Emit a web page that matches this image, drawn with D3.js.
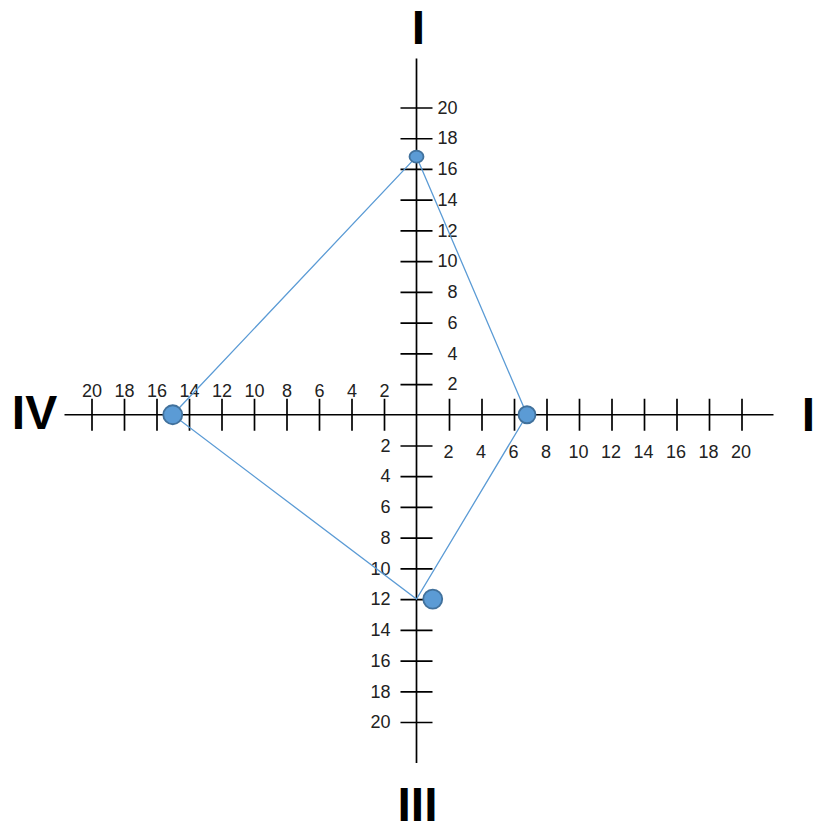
<!DOCTYPE html>
<meta charset="utf-8">
<script src="https://d3js.org/d3.v7.min.js"></script>
<style>
body { margin: 0; background: #fff; }
text { font-family: "Liberation Sans", Arial, sans-serif; }
.tick line, .axis-line { stroke: #000; stroke-width: 1.7; }
.tick text { font-size: 18px; fill: #222; }
.quad { font-size: 48px; font-weight: bold; fill: #000; }
</style>
<body>
<script>
// chart data
var posTicks = [2, 4, 6, 8, 10, 12, 14, 16, 18, 20];
var negTicks = [-2, -4, -6, -8, -10, -12, -14, -16, -18, -20];
var quadLabels = ["I", "I", "III", "IV"];   // top, right, bottom, left

// polygon vertices (x, y) going top -> right -> bottom -> left
var shapeX = [0, 6.8, 0, -15];
var shapeY = [16.8, 0, -12, 0];

// marker points (bottom one sits just off the axis)
var markX = [0, 6.8, 1, -15];
var markY = [16.8, 0, -12, 0];

var width = 815,
    height = 825;

var svg = d3.select("body").append("svg")
    .attr("width", width)
    .attr("height", height);

var x = d3.scaleLinear().domain([-20, 20]).range([91.5, 741.5]);
var y = d3.scaleLinear().domain([-20, 20]).range([722, 107.5]);

var x0 = x(0), y0 = y(0);

// main cross
svg.append("line").attr("class", "axis-line")
    .attr("x1", x(-20) - 27).attr("x2", x(20) + 32)
    .attr("y1", y0).attr("y2", y0);
svg.append("line").attr("class", "axis-line")
    .attr("x1", x0).attr("x2", x0)
    .attr("y1", y(20) - 49).attr("y2", y(-20) + 41);

// right half: labels below
var gR = svg.append("g").attr("transform", "translate(0," + y0 + ")")
    .call(d3.axisBottom(x).tickValues(posTicks).tickSizeInner(16).tickSizeOuter(0));
// left half: labels above
var gL = svg.append("g").attr("transform", "translate(0," + y0 + ")")
    .call(d3.axisTop(x).tickValues(negTicks).tickFormat(function(d) { return -d; })
      .tickSizeInner(16).tickSizeOuter(0));
// upper half: labels right
var gU = svg.append("g").attr("transform", "translate(" + x0 + ",0)")
    .call(d3.axisRight(y).tickValues(posTicks).tickSizeInner(16).tickSizeOuter(0));
// lower half: labels left
var gD = svg.append("g").attr("transform", "translate(" + x0 + ",0)")
    .call(d3.axisLeft(y).tickValues(negTicks).tickFormat(function(d) { return -d; })
      .tickSizeInner(16).tickSizeOuter(0));

[gR, gL, gU, gD].forEach(function(g) {
  g.select(".domain").remove();
  g.attr("font-size", null).attr("font-family", null);
});

// ticks cross the axis on both sides
gR.selectAll(".tick line").attr("y1", -16).attr("y2", 16);
gL.selectAll(".tick line").attr("y1", -16).attr("y2", 16);
gU.selectAll(".tick line").attr("x1", -16).attr("x2", 16);
gD.selectAll(".tick line").attr("x1", -16).attr("x2", 16);

gR.selectAll(".tick text").attr("y", 30).attr("x", -1);
gL.selectAll(".tick text").attr("y", -18);
gU.selectAll(".tick text").attr("x", 41).attr("text-anchor", "end");
gD.selectAll(".tick text").attr("x", -26).attr("text-anchor", "end");

// quadrant labels
var quadPos = [
  [x0 + 2, y(20) - 64],
  [x(20) + 67, y0 + 16],
  [x0 + 1, y(-20) + 99],
  [x(-20) - 57, y0 + 14]
];
svg.selectAll("text.quad")
    .data(quadLabels)
  .enter().append("text")
    .attr("class", "quad")
    .attr("x", function(d, i) { return quadPos[i][0]; })
    .attr("y", function(d, i) { return quadPos[i][1]; })
    .attr("text-anchor", "middle")
    .text(function(d) { return d; });

// polygon
var pts = shapeX.map(function(d, i) { return [x(d), y(shapeY[i])]; });
svg.append("path")
    .attr("d", d3.line()(pts) + "Z")
    .attr("fill", "none")
    .attr("stroke", "#5b9bd5")
    .attr("stroke-width", 1.3);

// markers
var markR = [7, 8.5, 9.5, 9.5];
svg.selectAll("ellipse.pt")
    .data(markX)
  .enter().append("ellipse")
    .attr("class", "pt")
    .attr("cx", function(d) { return x(d); })
    .attr("cy", function(d, i) { return y(markY[i]); })
    .attr("rx", function(d, i) { return markR[i]; })
    .attr("ry", function(d, i) { return i == 0 ? markR[i] - 1 : markR[i]; })
    .attr("fill", "#5b9bd5")
    .attr("stroke", "#41719c")
    .attr("stroke-width", 1.8);
</script>
</body>
